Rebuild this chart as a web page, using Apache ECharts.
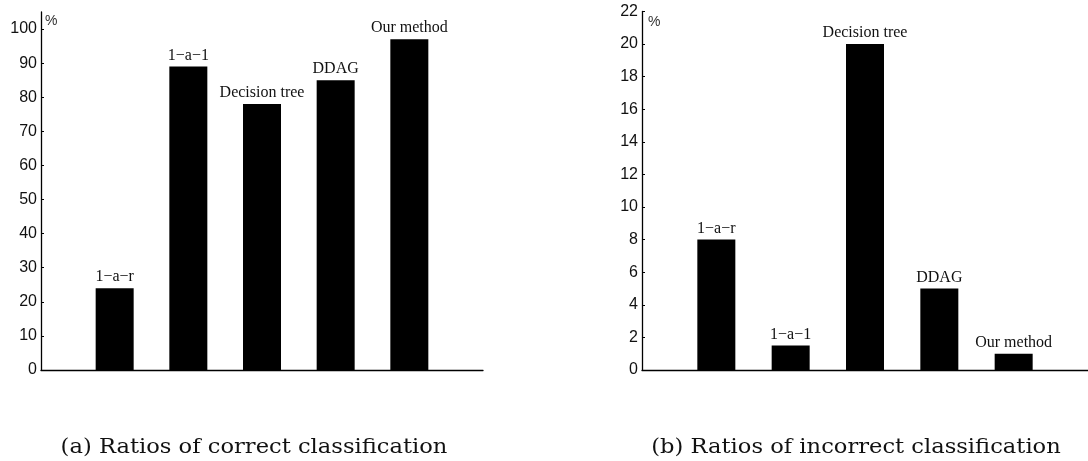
<!DOCTYPE html>
<html>
<head>
<meta charset="utf-8">
<script src="https://cdn.jsdelivr.net/npm/echarts@6/dist/echarts.min.js"></script>
<style>html,body{margin:0;padding:0;background:#fff;}#c{width:1088px;height:461px;}</style>
</head>
<body>
<div id="c"></div>
<script>
var methods = ['1\u2212a\u2212r', '1\u2212a\u22121', 'Decision tree', 'DDAG', 'Our method'];
var positions = [1, 2, 3, 4, 5];
var correctValues = [24, 89, 78, 85, 97];
var incorrectValues = [8, 1.5, 20, 5, 1];
var leftTicks = [0, 10, 20, 30, 40, 50, 60, 70, 80, 90, 100];
var rightTicks = [0, 2, 4, 6, 8, 10, 12, 14, 16, 18, 20, 22];
var captions = ['(a) Ratios of correct classification', '(b) Ratios of incorrect classification'];

function pairs(vals) { return vals.map(function (v, i) { return [positions[i], v]; }); }

var chart = echarts.init(document.getElementById('c'));
var axisLine = { show: true, lineStyle: { color: '#000', width: 1.3 } };
var tickLabel = { color: '#111', fontFamily: 'Liberation Sans', fontSize: 16, margin: 4 };
function yAxis(idx, max, interval, ticks) {
  return {
    type: 'value', gridIndex: idx, min: 0, max: max, interval: interval,
    axisLine: axisLine, splitLine: { show: false },
    axisTick: { show: true, inside: true, length: 3, lineStyle: { color: '#000' }, customValues: ticks },
    axisLabel: Object.assign({ customValues: ticks }, tickLabel)
  };
}
function xAxis(idx) {
  return {
    type: 'value', gridIndex: idx, min: 0, max: 6,
    axisLine: axisLine, axisTick: { show: false }, axisLabel: { show: false }, splitLine: { show: false }
  };
}
function barSeries(idx, vals) {
  return {
    type: 'bar', xAxisIndex: idx, yAxisIndex: idx, data: pairs(vals), barWidth: 38,
    itemStyle: { color: '#000' }, animation: false,
    label: {
      show: true, position: 'top', distance: 3,
      formatter: function (p) { return methods[p.dataIndex]; },
      fontFamily: 'Liberation Serif', fontSize: 16, color: '#111'
    }
  };
}
chart.setOption({
  animation: false,
  grid: [
    { left: 41, top: 12, width: 442, height: 358 },
    { left: 642, top: 11.4, width: 452, height: 358.6 }
  ],
  xAxis: [xAxis(0), xAxis(1)],
  yAxis: [yAxis(0, 105, 10, leftTicks), yAxis(1, 22, 2, rightTicks)],
  series: [barSeries(0, correctValues), barSeries(1, incorrectValues)],
  graphic: [
    { type: 'text', left: 45, top: 14, style: { text: '%', font: '14px "Liberation Sans"', fill: '#333' } },
    { type: 'text', left: 648, top: 15, style: { text: '%', font: '14px "Liberation Sans"', fill: '#333' } },
    { type: 'text', x: 254, y: 448, scaleX: 1.13, style: { text: captions[0], font: '20px "DejaVu Serif"', fill: '#111', align: 'center', verticalAlign: 'middle' } },
    { type: 'text', x: 856, y: 448, scaleX: 1.13, style: { text: captions[1], font: '20px "DejaVu Serif"', fill: '#111', align: 'center', verticalAlign: 'middle' } }
  ]
});
</script>
</body>
</html>
